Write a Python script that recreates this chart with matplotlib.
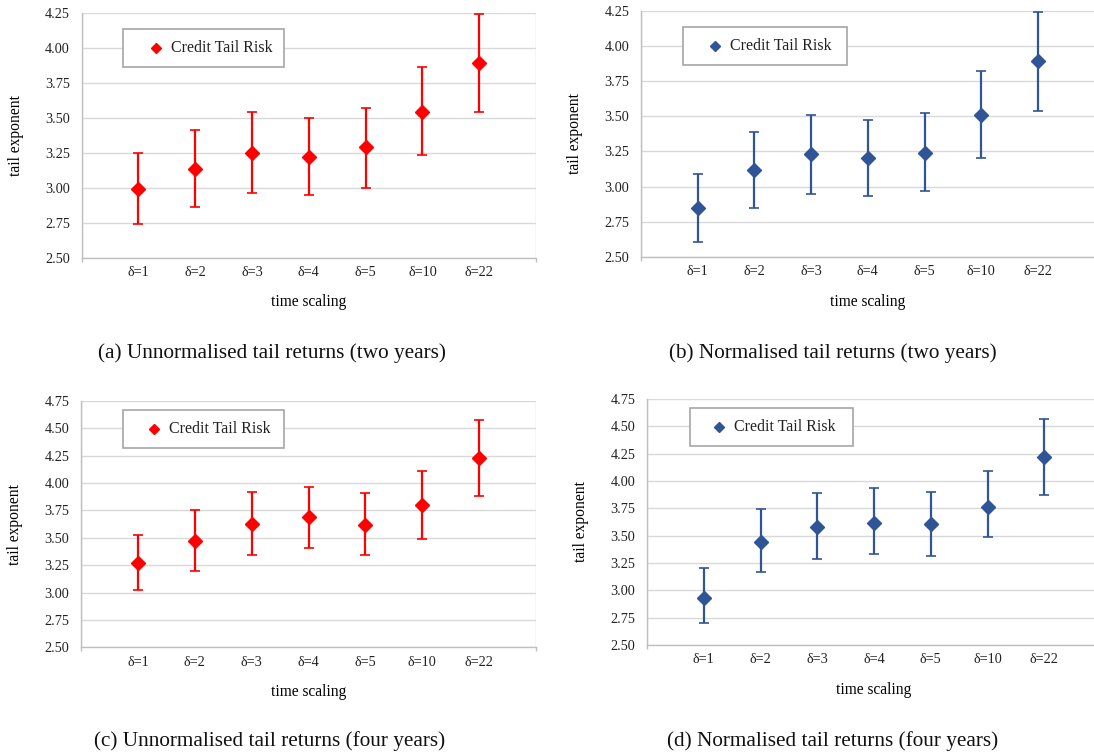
import numpy as np
import matplotlib
matplotlib.use("Agg")
import matplotlib.pyplot as plt
from matplotlib.patches import Rectangle
from matplotlib.lines import Line2D

plt.rcParams['font.family'] = ['Liberation Serif', 'DejaVu Serif']

# categories
scales = ["δ=1", "δ=2", "δ=3", "δ=4", "δ=5", "δ=10", "δ=22"]

# (a) unnormalised, two years
a_mid = [2.99, 3.13, 3.25, 3.22, 3.29, 3.54, 3.89]
a_low = [2.74, 2.86, 2.96, 2.95, 3.00, 3.23, 3.54]
a_high = [3.25, 3.41, 3.54, 3.50, 3.57, 3.86, 4.24]

# (b) normalised, two years
b_mid = [2.85, 3.12, 3.23, 3.20, 3.24, 3.51, 3.89]
b_low = [2.61, 2.85, 2.95, 2.93, 2.97, 3.20, 3.54]
b_high = [3.09, 3.39, 3.51, 3.47, 3.52, 3.82, 4.24]

# (c) unnormalised, four years
c_mid = [3.27, 3.47, 3.63, 3.69, 3.62, 3.80, 4.23]
c_low = [3.02, 3.20, 3.34, 3.41, 3.34, 3.49, 3.885]
c_high = [3.53, 3.75, 3.92, 3.96, 3.91, 4.11, 4.575]

# (d) normalised, four years
d_mid = [2.93, 3.445, 3.58, 3.62, 3.61, 3.765, 4.22]
d_low = [2.70, 3.17, 3.29, 3.33, 3.31, 3.49, 3.875]
d_high = [3.20, 3.74, 3.89, 3.935, 3.90, 4.09, 4.57]

captions = ["(a) Unnormalised tail returns (two years)",
            "(b) Normalised tail returns (two years)",
            "(c) Unnormalised tail returns (four years)",
            "(d) Normalised tail returns (four years)"]

RED = "#FF0000"
BLUE = "#2F5597"
W, H = 1094, 754

fig = plt.figure(figsize=(W / 100, H / 100), dpi=100)


def px_axes(left, top, right, bottom):
    return fig.add_axes([left / W, 1 - bottom / H, (right - left) / W, (bottom - top) / H])


def fx(x):
    return x / W


def fy(y):
    return 1 - y / H


def panel(box, mid, low, high, color, ymax, legend_box, caption_xy, caption):
    ax = px_axes(*box)
    x = np.arange(1, len(scales) + 1)
    mid = np.array(mid)
    err = [mid - np.array(low), np.array(high) - mid]
    ax.errorbar(x, mid, yerr=err, fmt="D", color=color, ms=7.5, elinewidth=1.6,
                capsize=3.5, capthick=1.2, zorder=3, clip_on=False)
    ax.set_xlim(0, 8)
    ax.set_ylim(2.5, ymax)
    ax.set_yticks(np.arange(2.5, ymax + 0.01, 0.25))
    ax.set_yticklabels([f"{v:.2f}" for v in np.arange(2.5, ymax + 0.01, 0.25)])
    ax.set_xticks(x)
    ax.set_xticklabels(scales)
    ax.set_xticks(np.arange(0, 9), minor=True)
    ax.tick_params(axis="both", which="major", length=0, labelsize=10.3, colors="#222222")
    ax.tick_params(axis="x", which="major", pad=6)
    ax.tick_params(axis="y", which="major", pad=8.5)
    ax.tick_params(axis="x", which="minor", length=3, color="#BFBFBF", width=1)
    ax.grid(True, axis="y", which="major", color="#D9D9D9", lw=1, zorder=0)
    ax.grid(True, axis="x", which="minor", color="#D9D9D9", lw=1, zorder=0)
    for s in ["top", "right"]:
        ax.spines[s].set_visible(False)
    for s in ["left", "bottom"]:
        ax.spines[s].set_color("#BFBFBF")
        ax.spines[s].set_linewidth(1)
    ax.set_axisbelow(True)
    ax.set_xlabel("time scaling", fontsize=11.2, labelpad=11)
    ax.set_ylabel("tail exponent", fontsize=11.2, labelpad=15)

    # legend box
    l, t, r, b, mx = legend_box
    fig.add_artist(Rectangle((fx(l), fy(b)), fx(r - l), (b - t) / H, transform=fig.transFigure,
                             facecolor="white", edgecolor="#A6A6A6", lw=1.2, zorder=5))
    cy = (t + b) / 2
    fig.add_artist(Line2D([fx(mx)], [fy(cy)], marker="D", ms=5.5, color=color, ls="none",
                          transform=fig.transFigure, zorder=6))
    fig.text(fx(mx + 15), fy(cy), "Credit Tail Risk", fontsize=11.5, va="center", ha="left",
             color="#222222", zorder=6)

    fig.text(fx(caption_xy[0]), fy(caption_xy[1]), caption, fontsize=15.3,
             ha="center", va="center", color="#111111")
    return ax


panel((81.7, 12.7, 536, 257.7), a_mid, a_low, a_high, RED, 4.25,
      (123.3, 29.3, 284, 67, 156), (272, 353), captions[0])
panel((641, 10.5, 1094.6, 257), b_mid, b_low, b_high, BLUE, 4.25,
      (683.3, 26.7, 847.4, 65, 715.3), (833, 353), captions[1])
panel((81, 401, 536, 647.3), c_mid, c_low, c_high, RED, 4.75,
      (123.3, 410, 284, 448, 153.7), (270, 741), captions[2])
panel((647, 399, 1101, 645), d_mid, d_low, d_high, BLUE, 4.75,
      (690, 407.7, 852.6, 445.7, 719.4), (833, 741), captions[3])

fig.savefig("out.png", dpi=100)
